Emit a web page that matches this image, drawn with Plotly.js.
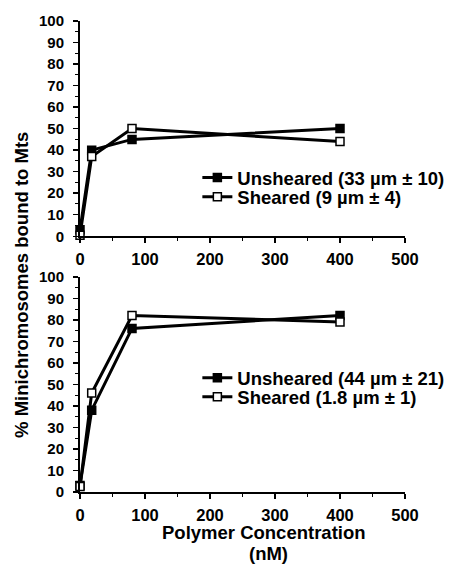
<!DOCTYPE html>
<html>
<head>
<meta charset="utf-8">
<script src="https://cdn.plot.ly/plotly-3.0.1.min.js"></script>
<style>html,body{margin:0;padding:0;background:#fff;}#chart{width:461px;height:566px;}</style>
</head>
<body>
<div id="chart"></div>
<script>
const concentration = [0, 18, 80, 400];
const topUnsheared = [3, 40, 45, 50];
const topSheared = [0.5, 37, 50, 44];
const bottomUnsheared = [3, 38, 76, 82];
const bottomSheared = [2.5, 46, 82, 79];
const topNames = ["Unsheared (33 \u00b5m \u00b1 10)", "Sheared (9 \u00b5m \u00b1 4)"];
const bottomNames = ["Unsheared (44 \u00b5m \u00b1 21)", "Sheared (1.8 \u00b5m \u00b1 1)"];
const xTickVals = [0, 100, 200, 300, 400, 500];
const yTickVals = [0, 10, 20, 30, 40, 50, 60, 70, 80, 90, 100];

const FONT = "Liberation Sans, Arial, Helvetica, sans-serif";
const lineStyle = {color: "#000", width: 3};
const filled = {symbol: "square", size: 8, color: "#000", line: {color: "#000", width: 1.5}};
const open = {symbol: "square", size: 8, color: "#fff", line: {color: "#000", width: 1.5}};

const traces = [
  {x: concentration, y: topUnsheared, name: topNames[0], mode: "lines+markers", line: lineStyle, marker: filled, xaxis: "x", yaxis: "y", legend: "legend", cliponaxis: false},
  {x: concentration, y: topSheared, name: topNames[1], mode: "lines+markers", line: lineStyle, marker: open, xaxis: "x", yaxis: "y", legend: "legend2", cliponaxis: false},
  {x: concentration, y: bottomUnsheared, name: bottomNames[0], mode: "lines+markers", line: lineStyle, marker: filled, xaxis: "x2", yaxis: "y2", legend: "legend3", cliponaxis: false},
  {x: concentration, y: bottomSheared, name: bottomNames[1], mode: "lines+markers", line: lineStyle, marker: open, xaxis: "x2", yaxis: "y2", legend: "legend4", cliponaxis: false}
];

function xax(anchor) {
  return {range: [0, 500], tickvals: xTickVals, ticks: "outside", ticklen: 5, tickwidth: 1.5, tickcolor: "#000",
    showline: true, linecolor: "#000", linewidth: 2, showgrid: false, zeroline: false, anchor: anchor,
    ticklabelstandoff: 2,
    tickfont: {family: FONT, size: 16.5, color: "#000", weight: "bold"},
    minor: {dtick: 50, ticks: "outside", ticklen: 3, tickcolor: "#000", tickwidth: 1}, fixedrange: true};
}
function yax(anchor, domain) {
  return {range: [0, 100], tickvals: yTickVals, ticks: "outside", ticklen: 5, tickwidth: 1.5, tickcolor: "#000",
    showline: true, linecolor: "#000", linewidth: 2, showgrid: false, zeroline: false, anchor: anchor, domain: domain,
    ticklabelstandoff: 6,
    tickfont: {family: FONT, size: 15, color: "#000", weight: "bold"},
    minor: {dtick: 5, ticks: "outside", ticklen: 3, tickcolor: "#000", tickwidth: 1}, fixedrange: true};
}
const legFont = {family: FONT, size: 18.5, color: "#000", weight: "bold"};
function leg(y) {
  return {x: 0.36, y: y, xanchor: "left", yanchor: "middle", font: legFont, bgcolor: "rgba(0,0,0,0)", tracegroupgap: 0, itemwidth: 30};
}
const titleFont = {family: FONT, size: 18.5, color: "#000", weight: "bold"};
const layout = {
  width: 461, height: 566,
  margin: {l: 80, r: 55, t: 21, b: 74},
  paper_bgcolor: "#fff", plot_bgcolor: "#fff",
  showlegend: true,
  xaxis: xax("y"),
  yaxis: yax("x", [0.543, 1]),
  xaxis2: xax("y2"),
  yaxis2: yax("x2", [0, 0.457]),
  legend: leg(0.6665),
  legend2: leg(0.6261),
  legend3: leg(0.2416),
  legend4: leg(0.2012),
  annotations: [
    {text: "% Minichromosomes bound to Mts", textangle: -90, xref: "paper", yref: "paper", x: -0.178, y: 0.44,
     xanchor: "center", yanchor: "middle", showarrow: false, font: titleFont},
    {text: "Polymer Concentration", xref: "paper", yref: "paper", x: 0.565, y: -0.0865, xanchor: "center", yanchor: "middle", showarrow: false,
     font: titleFont},
    {text: "(nM)", xref: "paper", yref: "paper", x: 0.58, y: -0.130, xanchor: "center", yanchor: "middle", showarrow: false,
     font: titleFont}
  ]
};
Plotly.newPlot("chart", traces, layout, {staticPlot: true});
</script>
</body>
</html>
